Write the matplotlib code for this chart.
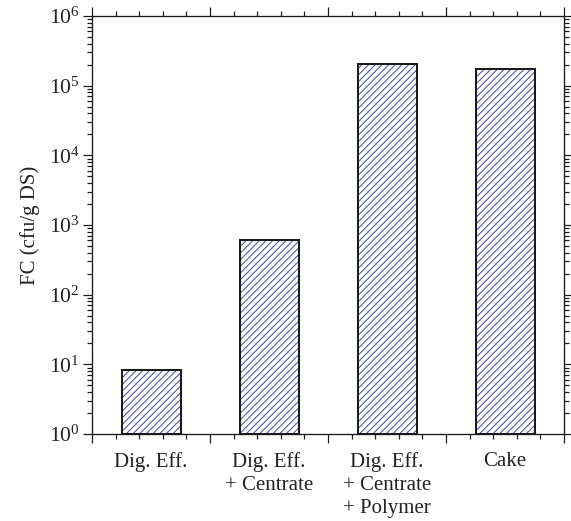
import matplotlib
matplotlib.use("Agg")
import matplotlib.pyplot as plt
from matplotlib.ticker import MultipleLocator, LogLocator, NullFormatter
import numpy as np

# Fecal coliform counts per sample type
categories = ["Dig. Eff.", "Dig. Eff.\n+ Centrate", "Dig. Eff.\n+ Centrate\n+ Polymer", "Cake"]
fc_values = [7.2, 6.0e2, 2.08e5, 1.75e5]

plt.rcParams["font.family"] = ["Liberation Serif", "DejaVu Serif"]
plt.rcParams["mathtext.fontset"] = "stix"
plt.rcParams["hatch.linewidth"] = 1.0
plt.rcParams["hatch.color"] = "#5458b0"

DPI = 80
INK = "#1a1a1a"
TXT = "#222222"
fig = plt.figure(figsize=(571 / DPI, 521 / DPI), dpi=DPI)
ax = fig.add_axes([92 / 571, 1 - 434 / 521, (564 - 92) / 571, (434 - 16) / 521])

x = np.arange(len(categories)) + 0.5
# hatch layer
ax.bar(x, fc_values, width=0.5, bottom=1, facecolor="white", edgecolor="#5458b0",
       hatch="////", linewidth=0, zorder=2)
# outline layer
ax.bar(x, fc_values, width=0.5, bottom=1, facecolor="none", edgecolor=INK,
       linewidth=1.8, zorder=3)

ax.set_yscale("log")
ax.set_ylim(1, 1e6)
ax.set_xlim(0, 4)

ax.xaxis.set_major_locator(MultipleLocator(1))
ax.xaxis.set_minor_locator(MultipleLocator(0.2))
ax.xaxis.set_major_formatter(NullFormatter())
ax.yaxis.set_major_locator(LogLocator(base=10, numticks=10))
ax.yaxis.set_minor_locator(LogLocator(base=10, subs=np.arange(2, 10), numticks=10))
ax.yaxis.set_minor_formatter(NullFormatter())

for s in ax.spines.values():
    s.set_linewidth(1.2)
    s.set_color(INK)

ax.tick_params(axis="both", which="both", direction="out", top=True, right=True,
               width=1.1, color=INK, labelsize=19.5, labelcolor=TXT)
ax.tick_params(axis="both", which="major", length=8)
ax.tick_params(axis="both", which="minor", length=4.5)
ax.tick_params(axis="y", which="major", pad=3)

# category labels centred under each bar
for xi, name in zip(x, categories):
    ax.text(xi, -0.043, name, transform=ax.get_xaxis_transform(), ha="center", va="top",
            fontsize=18.8, color=TXT, linespacing=1.3, multialignment="center")

ax.set_ylabel("FC (cfu/g DS)", fontsize=18.8, color=TXT, labelpad=0)
ax.yaxis.set_label_coords(-0.11, 0.5)

fig.savefig("out.png", dpi=DPI, facecolor="white")
